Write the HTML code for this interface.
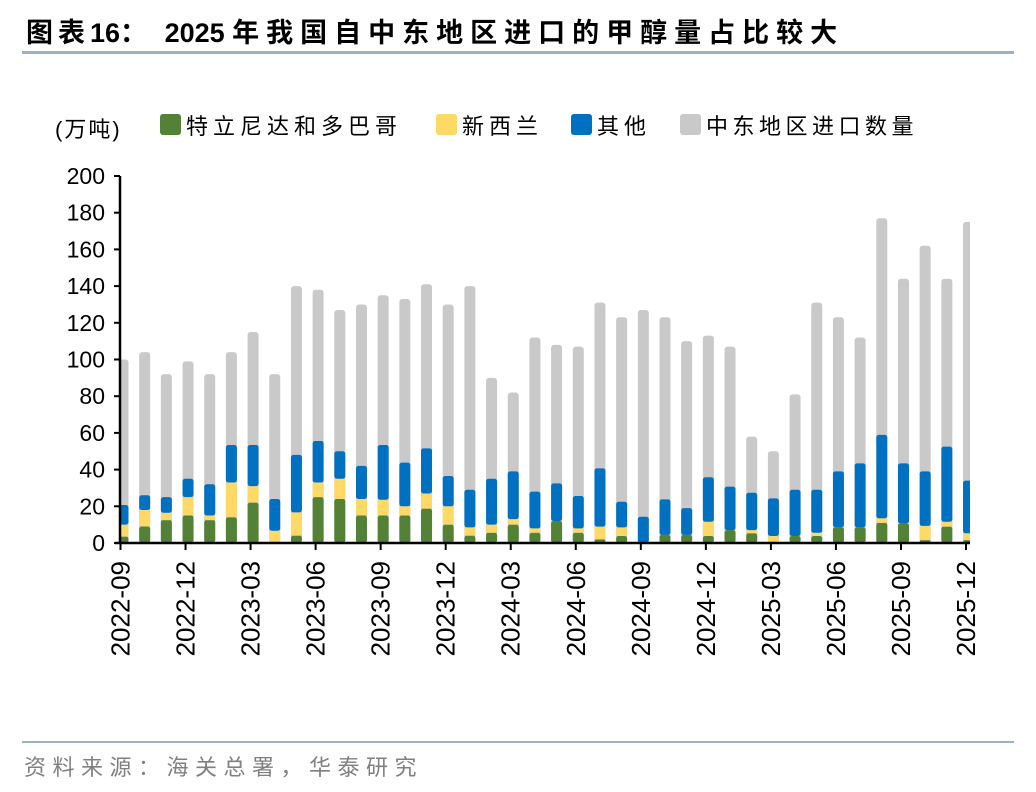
<!DOCTYPE html>
<html><head><meta charset="utf-8"><style>
body{margin:0;background:#fff;}
svg{display:block;}
text{font-family:"Liberation Sans","Noto Sans CJK SC",sans-serif;}
</style></head><body>
<svg id="chart" width="1036" height="792" viewBox="0 0 1036 792" xmlns="http://www.w3.org/2000/svg">
<text x="26" y="42" font-size="27" font-weight="bold" fill="#000"><tspan letter-spacing="5">图表</tspan><tspan>16</tspan><tspan letter-spacing="5">：  </tspan><tspan>2025 </tspan><tspan letter-spacing="7">年我国自中东地区进口的甲醇量占比较大</tspan></text>
<rect x="22" y="51" width="992" height="3" fill="#9db0c8"/>
<text x="55" y="137" font-size="22" fill="#000" letter-spacing="2">(万吨)</text>
<g>
<rect x="160" y="114" width="21" height="21" rx="3" fill="#538135"/>
<text x="186" y="134" font-size="22" letter-spacing="5" font-family="'Liberation Serif','Noto Serif CJK SC',serif">特立尼达和多巴哥</text>
<rect x="436" y="114" width="21" height="21" rx="3" fill="#ffd966"/>
<text x="462" y="134" font-size="22" letter-spacing="5" font-family="'Liberation Serif','Noto Serif CJK SC',serif">新西兰</text>
<rect x="571" y="114" width="21" height="21" rx="3" fill="#0070c0"/>
<text x="597" y="134" font-size="22" letter-spacing="5" font-family="'Liberation Serif','Noto Serif CJK SC',serif">其他</text>
<rect x="680" y="114" width="21" height="21" rx="3" fill="#c9c9c9"/>
<text x="706" y="134" font-size="22" letter-spacing="4.5" font-family="'Liberation Serif','Noto Serif CJK SC',serif">中东地区进口数量</text>
</g>
<defs><clipPath id="plotclip"><rect x="120" y="150" width="850" height="400"/></clipPath></defs>
<g id="bars" clip-path="url(#plotclip)"></g>
<g id="axes"></g>
<rect x="22" y="741" width="992" height="2" fill="#9db0c8"/>
<text x="24" y="775" font-size="22" fill="#808080" letter-spacing="6.5" font-family="'Liberation Serif','Noto Serif CJK SC',serif">资料来源：海关总署，华泰研究</text>
</svg>
<script>
const months = ["2022-09","2022-10","2022-11","2022-12","2023-01","2023-02","2023-03","2023-04","2023-05","2023-06","2023-07","2023-08","2023-09","2023-10","2023-11","2023-12","2024-01","2024-02","2024-03","2024-04","2024-05","2024-06","2024-07","2024-08","2024-09","2024-10","2024-11","2024-12","2025-01","2025-02","2025-03","2025-04","2025-05","2025-06","2025-07","2025-08","2025-09","2025-10","2025-11","2025-12"];
const trinidad = [3.5,9,12.5,15,12.5,14,22,0,4,25,24,15,15,15,18.7,10,4,5.6,10,5.6,12,5.6,2,3.8,0,4.4,4.4,3.8,7,5.3,0,3.8,3.8,8.6,8.6,11,10.7,1.6,8.9,1.6];
const newZealand = [6.5,9,4,10,2.5,19,9,6.7,12.7,8,11,9,8.6,5,8.3,10,4.5,4.4,3,2.4,0,2.4,6.9,4.7,0,0,0,7.8,0,1.7,3.8,0,1.8,0,0,2.5,0,7.7,2.7,3.7];
const others = [10.7,8,8.5,10,17,20.4,22.4,17.3,31.3,22.6,15,18,29.8,23.8,24.6,16.5,20.5,25,26,20,20.5,17.6,31.8,14,14.3,19.4,14.6,24.2,23.7,20.4,20.5,25.2,23.4,30.4,34.8,45.4,32.7,29.7,40.9,28.7];
const middleEast = [100,104,92,99,92,104,115,92,140,138,127,130,135,133,141,130,140,90,82,112,108,107,131,123,127,123,110,113,107,58,50,81,131,123,112,177,144,162,144,175];
const yTicks = [0,20,40,60,80,100,120,140,160,180,200];

const NS = "http://www.w3.org/2000/svg";
const X0 = 121, STEP = 21.68, Y0 = 543, YTOP = 176, YMAX = 200, BW = 11;
const xs = i => X0 + 2 + i * STEP;
const ys = v => Y0 - v / YMAX * (Y0 - YTOP);
function mk(tag, attrs, parent){const e=document.createElementNS(NS,tag);for(const k in attrs)e.setAttribute(k,attrs[k]);parent.appendChild(e);return e;}
const bars = document.getElementById('bars');
const axes = document.getElementById('axes');

months.forEach((m,i)=>{
  const cx = xs(i);
  const g = mk('rect',{x:cx-BW/2,y:ys(middleEast[i]),width:BW,height:Math.max(0,Y0-ys(middleEast[i])),rx:3,fill:'#c9c9c9'},bars);
  
  
  let base = 0;
  [[trinidad,'#538135','trinidad'],[newZealand,'#ffd966','new-zealand'],[others,'#0070c0','other']].forEach(([arr,col,nm])=>{
    const v = arr[i];
    if(v>0){
      const r = mk('rect',{x:cx-BW/2,y:ys(base+v),width:BW,height:ys(base)-ys(base+v),rx:2.5,fill:col},bars);
      
      
    }
    base += v;
  });
});

const ya = mk('line',{x1:120,y1:YTOP,x2:120,y2:Y0+1,stroke:'#000','stroke-width':2.5},axes);


const xa = mk('line',{x1:115,y1:Y0,x2:970,y2:Y0,stroke:'#000','stroke-width':2.5},axes);


yTicks.forEach(t=>{
  const y = ys(t);
  const tk = mk('line',{x1:114,y1:y,x2:120,y2:y,stroke:'#000','stroke-width':2},axes);
  
  
  const tl = mk('text',{x:105,y:y+8,'font-size':23,'text-anchor':'end',fill:'#000'},axes);
  tl.textContent = t;
  
  
});
months.forEach((m,i)=>{
  if(i%3!==0) return;
  const x = X0 + i*STEP - 0.5;
  const tk = mk('line',{x1:x,y1:Y0,x2:x,y2:Y0+7,stroke:'#000','stroke-width':2},axes);
  
  
  const tl = mk('text',{x:0,y:0,'font-size':26,'text-anchor':'end',fill:'#000',transform:`translate(${x+9},561) rotate(-90)`},axes);
  tl.textContent = m;
  
  
});
</script>
</body></html>
